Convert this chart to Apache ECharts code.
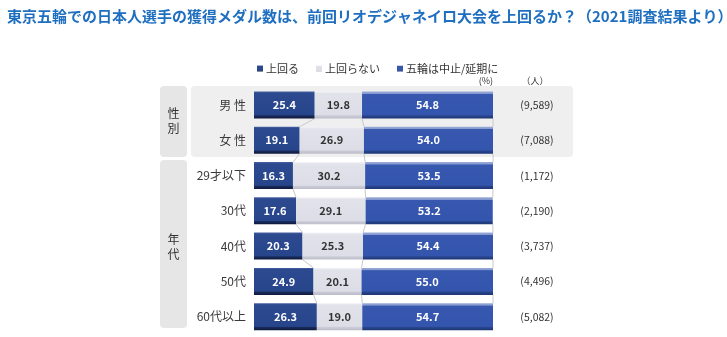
<!DOCTYPE html>
<html>
<head>
<meta charset="utf-8">
<script src="https://cdn.jsdelivr.net/npm/echarts@6/dist/echarts.min.js"></script>
<style>
  html, body { margin: 0; padding: 0; background: #fff; }
  #chart { width: 727px; height: 337px; }
</style>
</head>
<body>
<div id="chart"></div>
<script>
// Survey rows (top to bottom)
const categories = ['男 性', '女 性', '29才以下', '30代', '40代', '50代', '60代以上'];
const respondents = ['(9,589)', '(7,088)', '(1,172)', '(2,190)', '(3,737)', '(4,496)', '(5,082)'];

// Share of answers, %
const exceed    = [25.4, 19.1, 16.3, 17.6, 20.3, 24.9, 26.3];   // 上回る
const notExceed = [19.8, 26.9, 30.2, 29.1, 25.3, 20.1, 19.0];   // 上回らない
const cancelled = [54.8, 54.0, 53.5, 53.2, 54.4, 55.0, 54.7];   // 五輪は中止/延期に

const seriesNames = ['上回る', '上回らない', '五輪は中止/延期に'];

const FONT = '"Noto Sans CJK JP", "Noto Sans", sans-serif';
const BAR_W = 27;

function vGrad(stops) {
  return {
    type: 'linear', x: 0, y: 0, x2: 0, y2: 1,
    colorStops: stops.map(s => ({ offset: s[0], color: s[1] }))
  };
}

const navyFill = vGrad([[0, '#4a62a0'], [0.06, '#2d4a90'], [0.86, '#27458b'], [0.9, '#18295a'], [1, '#0f1a3c']]);
const grayFill = vGrad([[0, '#f3f3f7'], [0.08, '#e1e2ea'], [0.86, '#dcdde6'], [0.9, '#c9cad5'], [1, '#bcbdc8']]);
const blueFill = vGrad([[0, '#9aabd8'], [0.08, '#8598cf'], [0.1, '#3858b0'], [0.86, '#3455ad'], [0.9, '#27448c'], [1, '#1d3675']]);

// Cumulative boundaries of every row, used for the connector lines
const bounds = categories.map((_, i) => [
  exceed[i],
  exceed[i] + notExceed[i],
  exceed[i] + notExceed[i] + cancelled[i]
]);

const connectorData = categories.slice(0, -1).map((_, i) => [0, i]);

function barSeries(name, data, fill, labelColor) {
  return {
    name: name,
    type: 'bar',
    stack: 'total',
    barWidth: BAR_W,
    data: data,
    itemStyle: { color: fill },
    label: {
      show: true,
      position: 'inside',
      color: labelColor,
      fontFamily: FONT,
      fontSize: 11,
      fontWeight: 'bold',
      formatter: p => p.value.toFixed(1)
    },
    emphasis: { disabled: true }
  };
}

const chart = echarts.init(document.getElementById('chart'), null, { renderer: 'canvas' });

chart.setOption({
  animation: false,
  backgroundColor: '#ffffff',
  title: {
    text: '東京五輪での日本人選手の獲得メダル数は、前回リオデジャネイロ大会を上回るか？（2021調査結果より）',
    left: 2,
    top: 4,
    textStyle: { color: '#1f6fc0', fontSize: 15, fontWeight: 'bold', fontFamily: FONT }
  },
  legend: {
    data: seriesNames,
    left: 252,
    top: 58,
    itemWidth: 6,
    itemHeight: 6,
    itemGap: 17,
    icon: 'rect',
    textStyle: { color: '#333', fontSize: 11, fontFamily: FONT, padding: [0, 0, 0, -2] }
  },
  grid: { left: 254, right: 234, top: 87.4, bottom: 2.7, containLabel: false },
  xAxis: {
    type: 'value', min: 0, max: 100,
    show: false
  },
  yAxis: [
    {
      type: 'category',
      data: categories,
      inverse: true,
      axisLine: { show: false },
      axisTick: { show: false },
      axisLabel: { color: '#3a3a3a', fontSize: 12, fontFamily: FONT, margin: 8 }
    },
    {
      type: 'category',
      data: respondents,
      inverse: true,
      position: 'right',
      axisLine: { show: false },
      axisTick: { show: false },
      axisLabel: { color: '#333', fontSize: 10.5, fontFamily: FONT, margin: 44, align: 'center' }
    }
  ],
  graphic: [
    { type: 'rect', z: -10, shape: { x: 160, y: 86, width: 27, height: 71, r: 4 }, style: { fill: '#e6e6e6' } },
    { type: 'rect', z: -10, shape: { x: 191, y: 86, width: 382, height: 71, r: 4 }, style: { fill: '#efefef' } },
    { type: 'rect', z: -10, shape: { x: 160, y: 160, width: 27, height: 168, r: 4 }, style: { fill: '#e6e6e6' } },
    { type: 'text', x: 173.5, y: 121, style: { text: '性\n別', fill: '#333', font: '12px ' + FONT, align: 'center', verticalAlign: 'middle', lineHeight: 15 } },
    { type: 'text', x: 173.5, y: 247, style: { text: '年\n代', fill: '#333', font: '12px ' + FONT, align: 'center', verticalAlign: 'middle', lineHeight: 15 } },
    { type: 'text', x: 493, y: 81, style: { text: '(%)', fill: '#333', font: '9px ' + FONT, align: 'right', verticalAlign: 'middle' } },
    { type: 'text', x: 535, y: 81, style: { text: '（人）', fill: '#333', font: '9px ' + FONT, align: 'center', verticalAlign: 'middle' } }
  ],
  series: [
    {
      name: 'connectors',
      type: 'custom',
      coordinateSystem: 'cartesian2d',
      data: connectorData,
      encode: { x: 0, y: 1 },
      silent: true,
      z: 1,
      renderItem: function (params, api) {
        const i = params.dataIndex;
        const half = BAR_W / 2;
        const children = bounds[i].map((b, k) => {
          const p0 = api.coord([b, i]);
          const p1 = api.coord([bounds[i + 1][k], i + 1]);
          return {
            type: 'line',
            shape: { x1: p0[0], y1: p0[1] + half, x2: p1[0], y2: p1[1] - half },
            style: { stroke: '#c8c8c8', lineWidth: 1 }
          };
        });
        return { type: 'group', children: children };
      }
    },
    barSeries(seriesNames[0], exceed, navyFill, '#ffffff'),
    barSeries(seriesNames[1], notExceed, grayFill, '#333333'),
    barSeries(seriesNames[2], cancelled, blueFill, '#ffffff')
  ],
  color: ['#2b4a8e', '#dcdde6', '#3556ae']
});
</script>
</body>
</html>
